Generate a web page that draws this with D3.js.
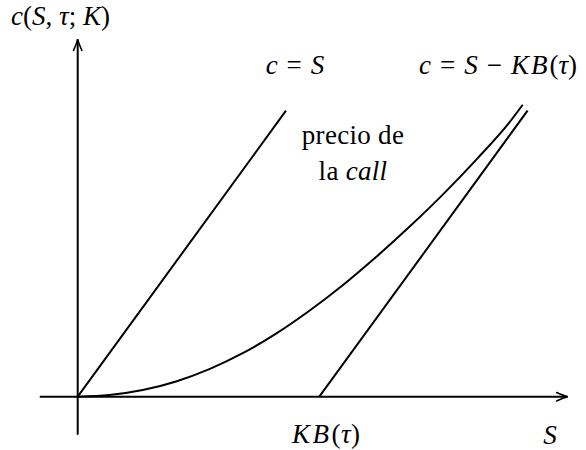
<!DOCTYPE html>
<html>
<head>
<meta charset="utf-8">
<script src="https://cdn.jsdelivr.net/npm/d3@7"></script>
<style>
  body { margin: 0; background: #fff; }
</style>
</head>
<body>
<script>
// precio de la call vs S (KB(tau) = 1 unit)
var spot = [0, 0.131, 0.269, 0.407, 0.545, 0.683, 0.821, 0.959, 1.097, 1.235, 1.373, 1.511, 1.649, 1.787, 1.842];
var callPrice = [0, 0.005, 0.020, 0.046, 0.083, 0.131, 0.190, 0.259, 0.336, 0.421, 0.512, 0.609, 0.714, 0.827, 0.880];

// c = S  and  c = S - KB(tau)
var upperBound = [[0, 0], [0.862, 0.862]];
var lowerBound = [[1, 0], [1.862, 0.862]];

// axis extents
var xExtent = [-0.157, 2.028];
var yExtent = [-0.115, 1.077];

var width = 586, height = 450;
var serif = "Liberation Serif";
var sp = "\u2004"; // a bit wider space around = and −

var x = d3.scaleLinear().domain([0, 1]).range([77.7, 319.3]);
var y = d3.scaleLinear().domain([0, 0.862]).range([396.7, 110.7]);

var svg = d3.select("body").append("svg")
    .attr("width", width)
    .attr("height", height);

// arrow head like tikz "->"
svg.append("defs").append("marker")
    .attr("id", "arrow")
    .attr("markerUnits", "userSpaceOnUse")
    .attr("viewBox", "-14 -7 16 14")
    .attr("markerWidth", 16)
    .attr("markerHeight", 14)
    .attr("refX", 0)
    .attr("refY", 0)
    .attr("orient", "auto")
    .append("path")
    .attr("d", "M-11,-4.2 Q-4,-1 0,0 Q-4,1 -11,4.2")
    .attr("fill", "none")
    .attr("stroke", "#000")
    .attr("stroke-width", 1.6)
    .attr("stroke-linecap", "round");

// axes
svg.append("line")
    .attr("x1", x(xExtent[0])).attr("y1", y(0))
    .attr("x2", x(xExtent[1])).attr("y2", y(0))
    .attr("stroke", "#000").attr("stroke-width", 2)
    .attr("marker-end", "url(#arrow)");

svg.append("line")
    .attr("x1", x(0)).attr("y1", y(yExtent[0]))
    .attr("x2", x(0)).attr("y2", y(yExtent[1]))
    .attr("stroke", "#000").attr("stroke-width", 2)
    .attr("marker-end", "url(#arrow)");

var line = d3.line()
    .x(function(d) { return x(d[0]); })
    .y(function(d) { return y(d[1]); });

svg.append("path")
    .attr("d", line(upperBound))
    .attr("fill", "none").attr("stroke", "#000").attr("stroke-width", 2);

svg.append("path")
    .attr("d", line(lowerBound))
    .attr("fill", "none").attr("stroke", "#000").attr("stroke-width", 2);

var curve = d3.line()
    .x(function(d) { return x(d[0]); })
    .y(function(d) { return y(d[1]); })
    .curve(d3.curveMonotoneX);

svg.append("path")
    .attr("d", curve(d3.zip(spot, callPrice)))
    .attr("fill", "none").attr("stroke", "#000").attr("stroke-width", 2);

// math-ish labels: [text, italic, letter-spacing]
function mathText(px, py, parts, anchor) {
    var t = svg.append("text")
        .attr("x", px).attr("y", py)
        .style("font-family", serif)
        .attr("font-size", 27)
        .attr("fill", "#000")
        .attr("text-anchor", anchor || "start");
    parts.forEach(function(p) {
        t.append("tspan")
            .style("font-family", serif)
            .style("letter-spacing", (p[2] || 0) + "px")
            .attr("font-style", p[1] ? "italic" : "normal")
            .text(p[0]);
    });
    return t;
}

mathText(11, 25, [["c", 1], ["(", 0], ["S", 1], [", ", 0], ["τ", 1], ["; ", 0], ["K", 1], [")", 0]]);
mathText(295, 74, [["c", 1], [sp + "=" + sp, 0], ["S", 1]], "middle");
mathText(498, 74, [["c", 1], [sp + "=" + sp, 0], ["S", 1], [sp + "−" + sp, 0], ["KB", 1, 2], ["(", 0], ["τ", 1], [")", 0]], "middle");
mathText(353, 144, [["precio de", 0, 0.3]], "middle");
mathText(353, 180, [["la ", 0, 0.3], ["call", 1, 0.3]], "middle");
mathText(326, 443, [["KB", 1, 2.5], ["(", 0, 0.5], ["τ", 1, 0.5], [")", 0]], "middle");
mathText(550, 444, [["S", 1]], "middle");
</script>
</body>
</html>
